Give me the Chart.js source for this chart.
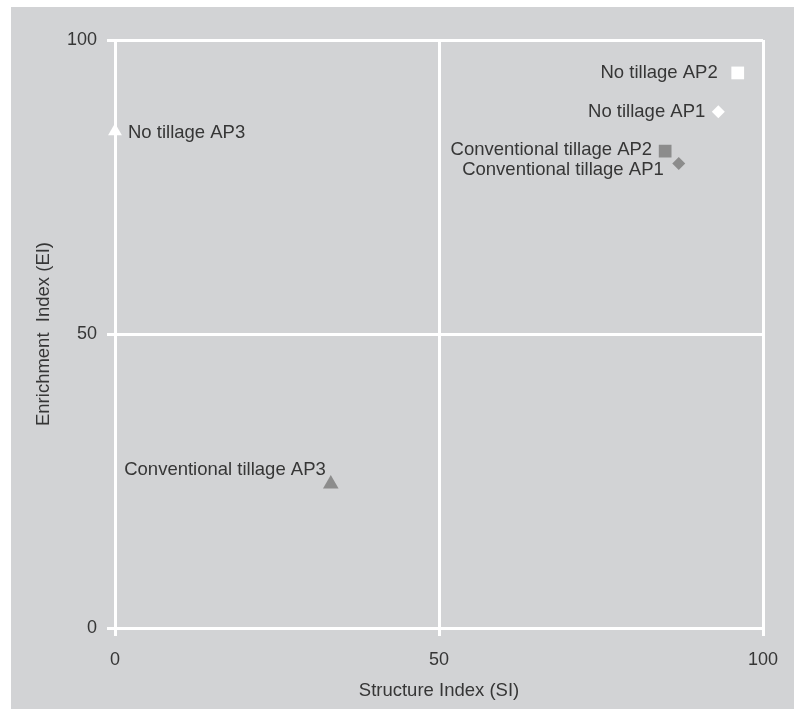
<!DOCTYPE html>
<html>
<head>
<meta charset="utf-8">
<script src="https://cdn.jsdelivr.net/npm/chart.js@4/dist/chart.umd.min.js"></script>
<style>
  html, body { margin: 0; padding: 0; background: #ffffff; }
  #wrap { position: absolute; left: 11px; top: 7px; width: 783px; height: 702px; background: #d2d3d5; }
  canvas { display: block; }
</style>
</head>
<body>
<div id="wrap"><canvas id="c" width="783" height="702"></canvas></div>
<script>
// ---- data ----
const categories = ["No tillage AP2", "No tillage AP1", "Conventional tillage AP2", "Conventional tillage AP1", "No tillage AP3", "Conventional tillage AP3"];
const structureIndex = [96.1, 93.1, 84.9, 87.0, 0.0, 33.3];
const enrichmentIndex = [94.4, 87.8, 81.1, 79.0, 84.5, 24.5];
const tickValues = [0, 50, 100];
const xTitle = "Structure Index (SI)";
const yTitle = "Enrichment  Index (EI)";

// ---- styles ----
const markerStyle = ["rect", "rectRot", "rect", "rectRot", "triangle", "triangle"];
const markerColor = ["#ffffff", "#ffffff", "#8c8c8c", "#8c8c8c", "#ffffff", "#8c8c8c"];
const markerRadius = [9, 6.5, 9, 6.5, 8, 9];
// label placement: [dx, dy, align]
const labelPlace = [[-20, 0, "right"], [-13, 0, "right"], [-13, -1, "right"], [-15, 6, "right"], [13, 2, "left"], [-5, -14, "right"]];

const FONT = "'Liberation Sans', Arial, sans-serif";
const TEXT = "#363636";

const labelPlugin = {
  id: "labels",
  afterDatasetsDraw(chart) {
    const ctx = chart.ctx;
    const meta = chart.getDatasetMeta(0);
    ctx.save();
    ctx.font = "18.5px " + FONT;
    ctx.fillStyle = TEXT;
    ctx.textBaseline = "middle";
    meta.data.forEach((pt, i) => {
      const p = labelPlace[i];
      ctx.textAlign = p[2];
      ctx.fillText(categories[i], pt.x + p[0], pt.y + p[1]);
    });
    // axis titles
    const a = chart.chartArea;
    ctx.textAlign = "center";
    ctx.fillText(xTitle, (a.left + a.right) / 2, 684);
    ctx.save();
    ctx.translate(33, (a.top + a.bottom) / 2);
    ctx.rotate(-Math.PI / 2);
    ctx.fillText(yTitle, 0, 0);
    ctx.restore();
    ctx.restore();
  }
};

new Chart(document.getElementById("c"), {
  type: "scatter",
  data: {
    datasets: [{
      data: structureIndex.map((x, i) => ({ x: x, y: enrichmentIndex[i] })),
      pointStyle: markerStyle,
      backgroundColor: markerColor,
      borderColor: markerColor,
      borderWidth: 0,
      pointRadius: markerRadius,
      pointHoverRadius: markerRadius,
      clip: false
    }]
  },
  options: {
    responsive: false,
    animation: false,
    events: [],
    layout: { padding: { left: 0, top: 33, right: 31, bottom: 0 } },
    plugins: { legend: { display: false }, tooltip: { enabled: false } },
    scales: {
      x: {
        type: "linear",
        min: 0, max: 100,
        afterBuildTicks: s => { s.ticks = tickValues.map(v => ({ value: v })); },
        afterFit: s => { s.height = 81; },
        grid: { color: "#ffffff", lineWidth: 3, drawTicks: true, tickLength: 8, tickColor: "#ffffff", tickWidth: 3 },
        border: { display: true, color: "#ffffff", width: 3 },
        ticks: { color: TEXT, font: { family: FONT, size: 18 }, padding: 13 }
      },
      y: {
        type: "linear",
        min: 0, max: 100,
        afterBuildTicks: s => { s.ticks = tickValues.map(v => ({ value: v })); },
        afterFit: s => { s.width = 104; },
        grid: { color: "#ffffff", lineWidth: 3, drawTicks: true, tickLength: 8, tickColor: "#ffffff", tickWidth: 3 },
        border: { display: true, color: "#ffffff", width: 3 },
        ticks: { color: TEXT, font: { family: FONT, size: 18 }, padding: 10 }
      }
    }
  },
  plugins: [labelPlugin]
});
</script>
</body>
</html>
